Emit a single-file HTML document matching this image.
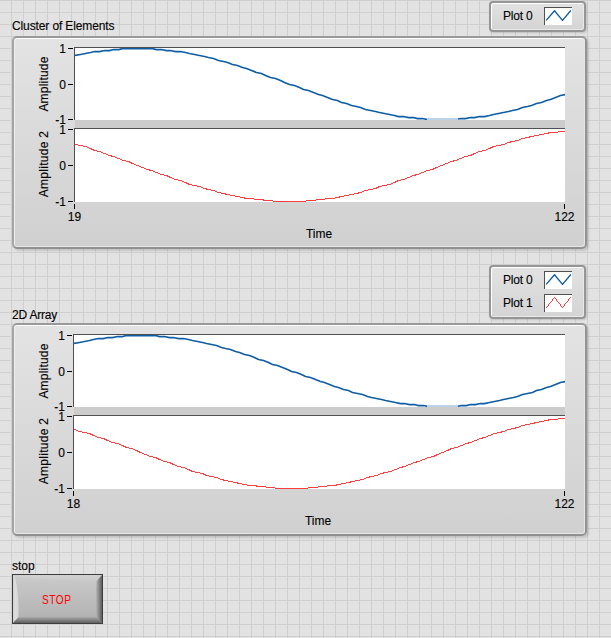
<!DOCTYPE html>
<html><head><meta charset="utf-8"><style>
html,body{margin:0;padding:0;}
body{-webkit-text-stroke:0.12px currentColor;width:611px;height:638px;overflow:hidden;position:relative;font-family:"Liberation Sans", sans-serif;color:#000;
background-color:#e2e2e2;
background-image:linear-gradient(to right,#cfcfcf 1px,transparent 1px),linear-gradient(to bottom,#cfcfcf 1px,transparent 1px);
background-size:12px 12px;background-position:11px 0;}
div{position:absolute;}
.frame{box-sizing:border-box;border:2px solid #929292;border-color:#9a9a9a #929292 #909090 #a4a4a4;border-radius:5px;
background:linear-gradient(#e3e3e3,#d0d0d0);box-shadow:inset 0 1px 0 #fdfdfd, inset 1px 0 0 #eeeeee, inset -1px -1px 0 #e6e6e6, 2px 2px 2px rgba(0,0,0,0.13);}
.leg{box-sizing:border-box;border:2px solid #959595;border-radius:4px;
background:linear-gradient(#e2e2e2,#d4d4d4);box-shadow:inset 1px 1px 0 #fff, inset -1px -1px 0 #e8e8e8, 1px 1px 2px rgba(0,0,0,0.15);}
.ibox{width:28px;height:18px;box-sizing:border-box;background:#fff;border-top:1px solid #505050;border-left:1px solid #505050;}
.btn{box-sizing:border-box;border:1px solid #3a3a3a;background:linear-gradient(#c9c9c9,#b3b3b3);}
</style></head><body>
<div style="position:absolute;left:12px;top:19.84px;font-size:12px;line-height:12px;color:#000;letter-spacing:-0.12px;white-space:nowrap;">Cluster of Elements</div>
<div class="leg" style="left:489px;top:1px;width:97px;height:31px"></div>
<div style="position:absolute;left:503px;top:9.84px;font-size:12px;line-height:12px;color:#000;letter-spacing:-0.2px;white-space:nowrap;">Plot 0</div>
<div class="ibox" style="left:544px;top:7px"></div>
<svg style="position:absolute;left:0;top:0" width="611" height="638"><polyline points="546.2,20.4 554.5,10.7 562.5,20.4 570.8,10.5" fill="none" stroke="#0f5da5" stroke-width="1.35" stroke-linejoin="round"/></svg>
<div class="frame" style="left:12px;top:36px;width:575px;height:213px"></div>
<div style="position:absolute;left:74px;top:47px;width:491px;height:73px;background:#fff;border-top:1px solid #505050;border-left:1px solid #505050;box-sizing:border-box"></div>
<div style="position:absolute;left:75px;top:120px;width:490px;height:8px;background:#cccccc"></div>
<div style="position:absolute;left:74px;top:128px;width:491px;height:74px;background:#fff;border-top:1px solid #505050;border-left:1px solid #505050;box-sizing:border-box"></div>
<div style="position:absolute;left:68px;top:48px;width:5px;height:1px;background:#000"></div>
<div style="position:absolute;left:68px;top:84px;width:5px;height:1px;background:#000"></div>
<div style="position:absolute;left:68px;top:119px;width:5px;height:1px;background:#000"></div>
<div style="position:absolute;left:68px;top:129px;width:5px;height:1px;background:#000"></div>
<div style="position:absolute;left:68px;top:165px;width:5px;height:1px;background:#000"></div>
<div style="position:absolute;left:68px;top:201px;width:5px;height:1px;background:#000"></div>
<div style="position:absolute;left:74px;top:204px;width:1px;height:5px;background:#000"></div>
<div style="position:absolute;left:564px;top:204px;width:1px;height:5px;background:#000"></div>
<div style="position:absolute;left:20px;width:46px;text-align:right;top:41.5px;font-size:12px;line-height:14px">1</div>
<div style="position:absolute;left:20px;width:46px;text-align:right;top:77.5px;font-size:12px;line-height:14px">0</div>
<div style="position:absolute;left:20px;width:46px;text-align:right;top:112.5px;font-size:12px;line-height:14px">-1</div>
<div style="position:absolute;left:20px;width:46px;text-align:right;top:122.5px;font-size:12px;line-height:14px">1</div>
<div style="position:absolute;left:20px;width:46px;text-align:right;top:158.5px;font-size:12px;line-height:14px">0</div>
<div style="position:absolute;left:20px;width:46px;text-align:right;top:194.5px;font-size:12px;line-height:14px">-1</div>
<div style="position:absolute;left:54px;width:41px;text-align:center;top:210px;font-size:12px;line-height:14px">19</div>
<div style="position:absolute;left:544px;width:41px;text-align:center;top:210px;font-size:12px;line-height:14px">122</div>
<div style="position:absolute;left:269px;width:100px;text-align:center;top:227px;font-size:12px;line-height:14px">Time</div>
<div style="position:absolute;left:-6px;top:77px;width:100px;text-align:center;font-size:12px;line-height:14px;transform:rotate(-90deg);letter-spacing:0.2px">Amplitude</div>
<div style="position:absolute;left:-6px;top:157px;width:100px;text-align:center;font-size:12px;line-height:14px;transform:rotate(-90deg);letter-spacing:0.3px">Amplitude 2</div>
<svg style="position:absolute;left:0;top:0" width="611" height="638"><defs><clipPath id="c10"><rect x="75" y="48" width="490" height="72"/></clipPath><clipPath id="c20"><rect x="75" y="129" width="490" height="73"/></clipPath></defs><polyline clip-path="url(#c10)" points="75.00,55.50 80.50,54.50 85.50,53.50 90.50,52.50 94.50,51.50 99.50,51.50 104.50,50.50 109.50,50.50 113.50,49.50 118.50,49.50 123.50,48.50 128.50,48.50 132.50,48.50 137.50,48.50 142.50,48.50 147.50,48.50 151.50,48.50 156.50,49.50 161.50,49.50 166.50,50.50 170.50,50.50 175.50,51.50 180.50,51.50 185.50,52.50 189.50,53.50 194.50,54.50 199.50,55.50 204.50,56.50 208.50,57.50 213.50,58.50 218.50,60.50 223.50,61.50 227.50,62.50 232.50,64.50 237.50,65.50 242.50,67.50 246.50,68.50 251.50,70.50 256.50,72.50 261.50,73.50 265.50,75.50 270.50,77.50 275.50,78.50 280.50,80.50 284.50,82.50 289.50,84.50 294.50,85.50 299.50,87.50 303.50,89.50 308.50,90.50 313.50,92.50 318.50,94.50 322.50,95.50 327.50,97.50 332.50,99.50 337.50,100.50 341.50,102.50 346.50,103.50 351.50,105.50 356.50,106.50 360.50,107.50 365.50,109.50 370.50,110.50 375.50,111.50 379.50,112.50 384.50,113.50 389.50,114.50 394.50,115.50 398.50,116.50 403.50,116.50 408.50,117.50 413.50,117.50 417.50,118.50 422.50,118.50 427.50,119.50 432.50,119.50 436.50,119.50 441.50,119.50 446.50,119.50 451.50,119.50 455.50,119.50 460.50,118.50 465.50,118.50 470.50,117.50 474.50,117.50 479.50,116.50 484.50,116.50 489.50,115.50 493.50,114.50 498.50,113.50 503.50,112.50 508.50,111.50 512.50,110.50 517.50,109.50 522.50,107.50 527.50,106.50 531.50,105.50 536.50,103.50 541.50,102.50 546.50,100.50 550.50,99.50 555.50,97.50 560.50,95.50 565.50,94.50" fill="none" stroke="#0f5da5" stroke-width="1.75"/><polyline clip-path="url(#c20)" points="75.50,144.50 80.50,145.50 85.50,146.50 90.50,148.50 94.50,150.50 99.50,151.50 104.50,153.50 109.50,155.50 113.50,156.50 118.50,158.50 123.50,160.50 128.50,161.50 132.50,163.50 137.50,165.50 142.50,167.50 147.50,169.50 151.50,170.50 156.50,172.50 161.50,174.50 166.50,175.50 170.50,177.50 175.50,179.50 180.50,180.50 185.50,182.50 189.50,184.50 194.50,185.50 199.50,186.50 204.50,188.50 208.50,189.50 213.50,190.50 218.50,192.50 223.50,193.50 227.50,194.50 232.50,195.50 237.50,196.50 242.50,197.50 246.50,198.50 251.50,198.50 256.50,199.50 261.50,199.50 265.50,200.50 270.50,200.50 275.50,201.50 280.50,201.50 284.50,201.50 289.50,201.50 294.50,201.50 299.50,201.50 303.50,201.50 308.50,200.50 313.50,200.50 318.50,199.50 322.50,199.50 327.50,198.50 332.50,198.50 337.50,197.50 341.50,196.50 346.50,195.50 351.50,194.50 356.50,193.50 360.50,192.50 365.50,190.50 370.50,189.50 375.50,188.50 379.50,186.50 384.50,185.50 389.50,184.50 394.50,182.50 398.50,180.50 403.50,179.50 408.50,177.50 413.50,175.50 417.50,174.50 422.50,172.50 427.50,170.50 432.50,169.50 436.50,167.50 441.50,165.50 446.50,163.50 451.50,161.50 455.50,160.50 460.50,158.50 465.50,156.50 470.50,155.50 474.50,153.50 479.50,151.50 484.50,150.50 489.50,148.50 493.50,146.50 498.50,145.50 503.50,144.50 508.50,142.50 512.50,141.50 517.50,140.50 522.50,138.50 527.50,137.50 531.50,136.50 536.50,135.50 541.50,134.50 546.50,133.50 550.50,132.50 555.50,132.50 560.50,131.50 565.50,131.50" fill="none" stroke="#ff3d3d" stroke-width="1" shape-rendering="crispEdges"/></svg>
<div style="position:absolute;left:427px;top:118px;width:31px;height:2px;background:#bcd2e8"></div>
<div class="leg" style="left:489px;top:265px;width:97px;height:54px"></div>
<div style="position:absolute;left:503px;top:273.84px;font-size:12px;line-height:12px;color:#000;letter-spacing:-0.2px;white-space:nowrap;">Plot 0</div>
<div class="ibox" style="left:544px;top:271px"></div>
<svg style="position:absolute;left:0;top:0" width="611" height="638"><polyline points="546.2,284.4 554.5,274.7 562.5,284.4 570.8,274.5" fill="none" stroke="#0f5da5" stroke-width="1.35" stroke-linejoin="round"/></svg>
<div style="position:absolute;left:503px;top:296.84px;font-size:12px;line-height:12px;color:#000;letter-spacing:-0.2px;white-space:nowrap;">Plot 1</div>
<div class="ibox" style="left:544px;top:294px"></div>
<svg style="position:absolute;left:0;top:0" width="611" height="638" shape-rendering="crispEdges"><g fill="#ff3d3d"><rect x="546" y="307" width="1" height="1"/><rect x="547" y="306" width="1" height="1"/><rect x="548" y="304" width="1" height="1"/><rect x="548" y="305" width="1" height="1"/><rect x="549" y="303" width="1" height="1"/><rect x="550" y="302" width="1" height="1"/><rect x="551" y="301" width="1" height="1"/><rect x="552" y="299" width="1" height="1"/><rect x="552" y="300" width="1" height="1"/><rect x="553" y="298" width="1" height="1"/><rect x="554" y="297" width="1" height="1"/><rect x="555" y="298" width="1" height="1"/><rect x="556" y="299" width="1" height="1"/><rect x="556" y="300" width="1" height="1"/><rect x="557" y="301" width="1" height="1"/><rect x="558" y="302" width="1" height="1"/><rect x="559" y="303" width="1" height="1"/><rect x="560" y="304" width="1" height="1"/><rect x="560" y="305" width="1" height="1"/><rect x="561" y="306" width="1" height="1"/><rect x="562" y="307" width="1" height="1"/><rect x="563" y="306" width="1" height="1"/><rect x="564" y="304" width="1" height="1"/><rect x="564" y="305" width="1" height="1"/><rect x="565" y="303" width="1" height="1"/><rect x="566" y="302" width="1" height="1"/><rect x="567" y="301" width="1" height="1"/><rect x="568" y="299" width="1" height="1"/><rect x="568" y="300" width="1" height="1"/><rect x="569" y="298" width="1" height="1"/><rect x="570" y="297" width="1" height="1"/></g></svg>
<div style="position:absolute;left:12px;top:308.84px;font-size:12px;line-height:12px;color:#000;letter-spacing:-0.2px;white-space:nowrap;">2D Array</div>
<div class="frame" style="left:12px;top:323px;width:575px;height:213px"></div>
<div style="position:absolute;left:73px;top:334px;width:492px;height:73px;background:#fff;border-top:1px solid #505050;border-left:1px solid #505050;box-sizing:border-box"></div>
<div style="position:absolute;left:74px;top:407px;width:491px;height:8px;background:#cccccc"></div>
<div style="position:absolute;left:73px;top:415px;width:492px;height:74px;background:#fff;border-top:1px solid #505050;border-left:1px solid #505050;box-sizing:border-box"></div>
<div style="position:absolute;left:67px;top:335px;width:5px;height:1px;background:#000"></div>
<div style="position:absolute;left:67px;top:371px;width:5px;height:1px;background:#000"></div>
<div style="position:absolute;left:67px;top:406px;width:5px;height:1px;background:#000"></div>
<div style="position:absolute;left:67px;top:416px;width:5px;height:1px;background:#000"></div>
<div style="position:absolute;left:67px;top:452px;width:5px;height:1px;background:#000"></div>
<div style="position:absolute;left:67px;top:488px;width:5px;height:1px;background:#000"></div>
<div style="position:absolute;left:73px;top:491px;width:1px;height:5px;background:#000"></div>
<div style="position:absolute;left:564px;top:491px;width:1px;height:5px;background:#000"></div>
<div style="position:absolute;left:19px;width:46px;text-align:right;top:328.5px;font-size:12px;line-height:14px">1</div>
<div style="position:absolute;left:19px;width:46px;text-align:right;top:364.5px;font-size:12px;line-height:14px">0</div>
<div style="position:absolute;left:19px;width:46px;text-align:right;top:399.5px;font-size:12px;line-height:14px">-1</div>
<div style="position:absolute;left:19px;width:46px;text-align:right;top:409.5px;font-size:12px;line-height:14px">1</div>
<div style="position:absolute;left:19px;width:46px;text-align:right;top:445.5px;font-size:12px;line-height:14px">0</div>
<div style="position:absolute;left:19px;width:46px;text-align:right;top:481.5px;font-size:12px;line-height:14px">-1</div>
<div style="position:absolute;left:53px;width:41px;text-align:center;top:497px;font-size:12px;line-height:14px">18</div>
<div style="position:absolute;left:544px;width:41px;text-align:center;top:497px;font-size:12px;line-height:14px">122</div>
<div style="position:absolute;left:268px;width:100px;text-align:center;top:514px;font-size:12px;line-height:14px">Time</div>
<div style="position:absolute;left:-6px;top:364px;width:100px;text-align:center;font-size:12px;line-height:14px;transform:rotate(-90deg);letter-spacing:0.2px">Amplitude</div>
<div style="position:absolute;left:-6px;top:444px;width:100px;text-align:center;font-size:12px;line-height:14px;transform:rotate(-90deg);letter-spacing:0.3px">Amplitude 2</div>
<svg style="position:absolute;left:0;top:0" width="611" height="638"><defs><clipPath id="c1287"><rect x="74" y="335" width="491" height="72"/></clipPath><clipPath id="c2287"><rect x="74" y="416" width="491" height="73"/></clipPath></defs><polyline clip-path="url(#c1287)" points="74.00,343.50 79.50,342.50 84.50,341.50 89.50,340.50 93.50,339.50 98.50,338.50 103.50,338.50 107.50,337.50 112.50,337.50 117.50,336.50 122.50,336.50 126.50,335.50 131.50,335.50 136.50,335.50 140.50,335.50 145.50,335.50 150.50,335.50 155.50,335.50 159.50,336.50 164.50,336.50 169.50,337.50 173.50,337.50 178.50,338.50 183.50,338.50 188.50,339.50 192.50,340.50 197.50,341.50 202.50,342.50 206.50,343.50 211.50,344.50 216.50,345.50 221.50,347.50 225.50,348.50 230.50,349.50 235.50,351.50 239.50,352.50 244.50,354.50 249.50,355.50 254.50,357.50 258.50,359.50 263.50,360.50 268.50,362.50 272.50,364.50 277.50,365.50 282.50,367.50 287.50,369.50 291.50,371.50 296.50,372.50 301.50,374.50 305.50,376.50 310.50,377.50 315.50,379.50 320.50,381.50 324.50,382.50 329.50,384.50 334.50,386.50 338.50,387.50 343.50,389.50 348.50,390.50 352.50,392.50 357.50,393.50 362.50,394.50 367.50,396.50 371.50,397.50 376.50,398.50 381.50,399.50 385.50,400.50 390.50,401.50 395.50,402.50 400.50,403.50 404.50,403.50 409.50,404.50 414.50,404.50 418.50,405.50 423.50,405.50 428.50,406.50 433.50,406.50 437.50,406.50 442.50,406.50 447.50,406.50 451.50,406.50 456.50,406.50 461.50,405.50 466.50,405.50 470.50,404.50 475.50,404.50 480.50,403.50 484.50,403.50 489.50,402.50 494.50,401.50 499.50,400.50 503.50,399.50 508.50,398.50 513.50,397.50 517.50,396.50 522.50,394.50 527.50,393.50 532.50,392.50 536.50,390.50 541.50,389.50 546.50,387.50 550.50,386.50 555.50,384.50 560.50,382.50 565.50,381.50" fill="none" stroke="#0f5da5" stroke-width="1.75"/><polyline clip-path="url(#c2287)" points="74.50,429.50 79.50,431.50 84.50,432.50 89.50,433.50 93.50,435.50 98.50,437.50 103.50,438.50 107.50,440.50 112.50,442.50 117.50,443.50 122.50,445.50 126.50,447.50 131.50,448.50 136.50,450.50 140.50,452.50 145.50,454.50 150.50,456.50 155.50,457.50 159.50,459.50 164.50,461.50 169.50,462.50 173.50,464.50 178.50,466.50 183.50,467.50 188.50,469.50 192.50,471.50 197.50,472.50 202.50,473.50 206.50,475.50 211.50,476.50 216.50,477.50 221.50,479.50 225.50,480.50 230.50,481.50 235.50,482.50 239.50,483.50 244.50,484.50 249.50,485.50 254.50,485.50 258.50,486.50 263.50,486.50 268.50,487.50 272.50,487.50 277.50,488.50 282.50,488.50 287.50,488.50 291.50,488.50 296.50,488.50 301.50,488.50 305.50,488.50 310.50,487.50 315.50,487.50 320.50,486.50 324.50,486.50 329.50,485.50 334.50,485.50 338.50,484.50 343.50,483.50 348.50,482.50 352.50,481.50 357.50,480.50 362.50,479.50 367.50,477.50 371.50,476.50 376.50,475.50 381.50,473.50 385.50,472.50 390.50,471.50 395.50,469.50 400.50,467.50 404.50,466.50 409.50,464.50 414.50,462.50 418.50,461.50 423.50,459.50 428.50,457.50 433.50,456.50 437.50,454.50 442.50,452.50 447.50,450.50 451.50,448.50 456.50,447.50 461.50,445.50 466.50,443.50 470.50,442.50 475.50,440.50 480.50,438.50 484.50,437.50 489.50,435.50 494.50,433.50 499.50,432.50 503.50,431.50 508.50,429.50 513.50,428.50 517.50,427.50 522.50,425.50 527.50,424.50 532.50,423.50 536.50,422.50 541.50,421.50 546.50,420.50 550.50,419.50 555.50,419.50 560.50,418.50 565.50,418.50" fill="none" stroke="#ff3d3d" stroke-width="1" shape-rendering="crispEdges"/></svg>
<div style="position:absolute;left:427px;top:405px;width:31px;height:2px;background:#bcd2e8"></div>
<div style="position:absolute;left:12px;top:559.84px;font-size:12px;line-height:12px;color:#000;letter-spacing:0px;white-space:nowrap;">stop</div>
<svg style="position:absolute;left:12px;top:574px" width="91" height="50">
<defs>
<linearGradient id="bf" x1="0" y1="0" x2="0" y2="1"><stop offset="0" stop-color="#cbcbcb"/><stop offset="1" stop-color="#b0b0b0"/></linearGradient>
<linearGradient id="bt" x1="0" y1="0" x2="0" y2="1"><stop offset="0" stop-color="#d2d2d2"/><stop offset="1" stop-color="#cacaca"/></linearGradient>
<linearGradient id="bl" x1="0" y1="0" x2="1" y2="0"><stop offset="0" stop-color="#d0d0d0"/><stop offset="0.45" stop-color="#dedede"/><stop offset="1" stop-color="#d2d2d2"/></linearGradient>
<linearGradient id="br" x1="0" y1="0" x2="1" y2="0"><stop offset="0" stop-color="#b8b8b8"/><stop offset="1" stop-color="#5c5c5c"/></linearGradient>
<linearGradient id="bb" x1="0" y1="0" x2="0" y2="1"><stop offset="0" stop-color="#acacac"/><stop offset="1" stop-color="#5e5e5e"/></linearGradient>
</defs>
<rect x="0" y="0" width="91" height="50" fill="#3e3e3e"/>
<rect x="1" y="1" width="89" height="48" fill="url(#bf)"/>
<path d="M1,1 L90,1 L84.5,7 Q45,6.5 3,3 Z" fill="url(#bt)"/>
<path d="M1,1 L3,3 Q7.5,22 6.5,43 L1,49 Z" fill="url(#bl)"/>
<path d="M90,1 L90,49 L84,43 Q83.5,22 84.5,7 Z" fill="url(#br)"/>
<path d="M1,49 L90,49 L84,43 Q45,42.5 6.5,43 Z" fill="url(#bb)"/>
</svg>
<div style="position:absolute;left:42px;top:593.84px;font-size:12px;line-height:12px;color:#ff0000;letter-spacing:0.7px;white-space:nowrap;transform:scaleX(0.84);transform-origin:0 0;-webkit-text-stroke:0">STOP</div>
</body></html>
